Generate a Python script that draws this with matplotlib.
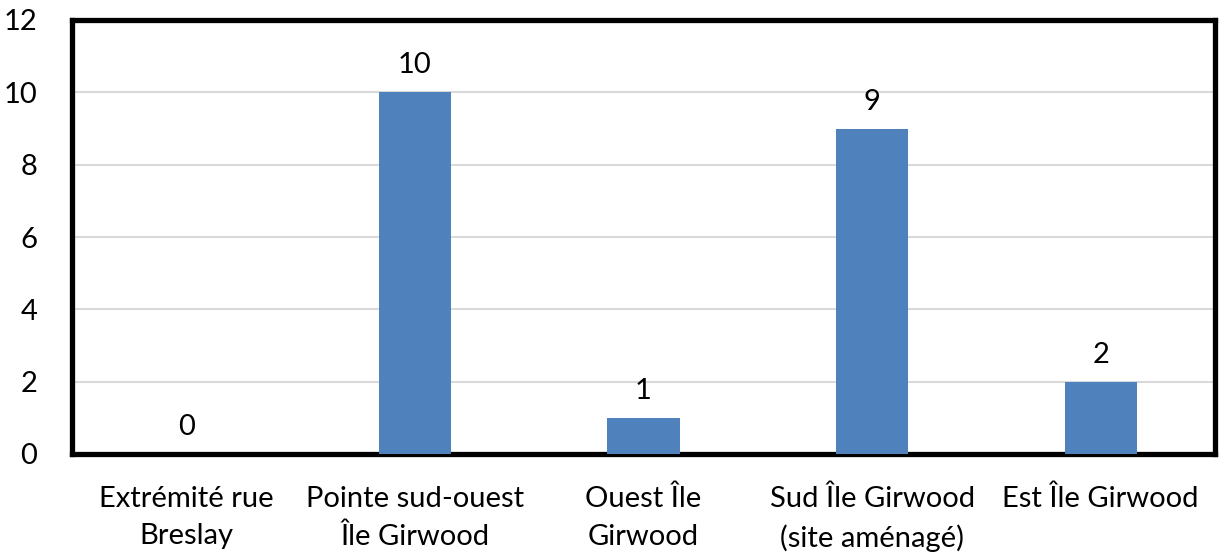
import matplotlib
matplotlib.use("Agg")
import matplotlib.pyplot as plt

categories = ["Extrémité rue\nBreslay", "Pointe sud-ouest\nÎle Girwood", "Ouest Île\nGirwood",
              "Sud Île Girwood\n(site aménagé)", "Est Île Girwood"]
values = [0, 10, 1, 9, 2]
yticks = [0, 2, 4, 6, 8, 10, 12]

plt.rcParams['font.family'] = ['Lato', 'DejaVu Sans']
FS = 21

fig = plt.figure(figsize=(12.2, 5.53), dpi=100)
ax = fig.add_axes([72/1220, 1 - 454/553, (1215-72)/1220, (454-20)/553])

x = list(range(len(categories)))
ax.bar(x, values, width=0.315, color="#4f81bd", zorder=3)
ax.set_xlim(-0.5, len(categories) - 0.5)
ax.set_ylim(0, 12)
ax.set_yticks(yticks)
ax.set_yticklabels([str(t) for t in yticks], fontsize=FS)
ax.set_xticks(x)
ax.set_xticklabels(categories, fontsize=FS, linespacing=1.55)
ax.tick_params(axis='both', length=0)
ax.tick_params(axis='y', pad=25)
ax.tick_params(axis='x', pad=23)
ax.grid(axis='y', color="#d9d9d9", linewidth=1.5, zorder=0)
for s in ax.spines.values():
    s.set_linewidth(3.8)
    s.set_color("black")
for xi, v in zip(x, values):
    ax.annotate(str(v), (xi, v), xytext=(0, 10), textcoords="offset points",
                ha="center", va="bottom", fontsize=FS)

fig.savefig("out.png", dpi=100)
